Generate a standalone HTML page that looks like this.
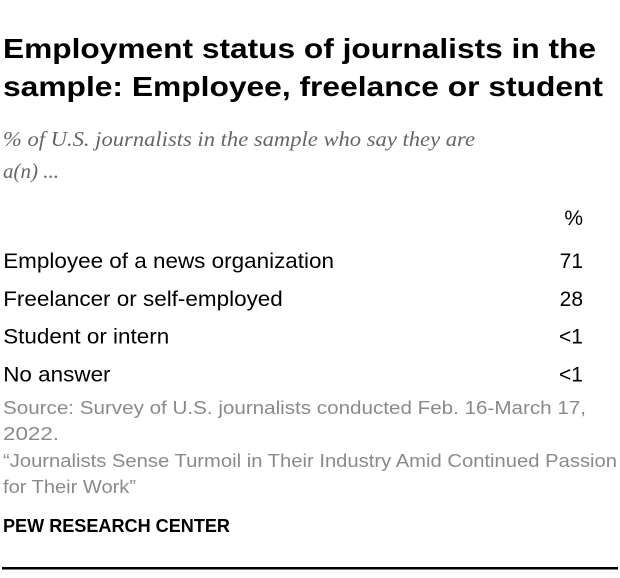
<!DOCTYPE html>
<html><head><meta charset="utf-8"><style>
body{margin:0;background:#fff;}
svg{display:block;}
</style></head><body>
<svg width="620" height="578" viewBox="0 0 620 578" font-family="Liberation Sans, sans-serif">
<g font-weight="bold" font-size="28" fill="#000">
<text x="3" y="58" textLength="593" lengthAdjust="spacingAndGlyphs">Employment status of journalists in the</text>
<text x="3" y="96" textLength="600" lengthAdjust="spacingAndGlyphs">sample: Employee, freelance or student</text>
</g>
<g font-family="Liberation Serif, serif" font-style="italic" font-size="21" fill="#666">
<text x="3" y="146" textLength="472" lengthAdjust="spacingAndGlyphs">% of U.S. journalists in the sample who say they are</text>
<text x="3" y="178">a(n) ...</text>
</g>
<g id="labels" font-size="21" fill="#000" transform="scale(1.07,1)"></g>
<g id="values" font-size="21" fill="#000"></g>
<g font-size="18" fill="#8a8a8a">
<text x="3" y="414" textLength="583" lengthAdjust="spacingAndGlyphs">Source: Survey of U.S. journalists conducted Feb. 16-March 17,</text>
<text x="3" y="440" textLength="56" lengthAdjust="spacingAndGlyphs">2022.</text>
<text x="3" y="467" textLength="614" lengthAdjust="spacingAndGlyphs">“Journalists Sense Turmoil in Their Industry Amid Continued Passion</text>
<text x="3" y="493" textLength="133" lengthAdjust="spacingAndGlyphs">for Their Work”</text>
</g>
<text x="3" y="532" font-size="18" font-weight="bold" fill="#000" textLength="227" lengthAdjust="spacingAndGlyphs">PEW RESEARCH CENTER</text>
<rect x="2" y="567" width="616" height="2.5" fill="#000"/>
</svg>
<script>
const categories=["Employee of a news organization","Freelancer or self-employed","Student or intern","No answer"];
const values=["71","28","<1","<1"];
const ns="http://www.w3.org/2000/svg";
const gl=document.getElementById('labels');
const gv=document.getElementById('values');




const h=document.createElementNS(ns,'text');
h.setAttribute('x','583');h.setAttribute('y','225');h.setAttribute('text-anchor','end');
h.textContent='%';


gv.appendChild(h);
const y0=268,step=37.8;
categories.forEach((c,i)=>{
  const y=y0+i*step;
  const t=document.createElementNS(ns,'text');
  t.setAttribute('x','3');t.setAttribute('y',y);t.textContent=c;
  
  
  gl.appendChild(t);
  const v=document.createElementNS(ns,'text');
  v.setAttribute('x','583');v.setAttribute('y',y);v.setAttribute('text-anchor','end');v.textContent=values[i];
  
  
  gv.appendChild(v);
});
</script>
</body></html>
